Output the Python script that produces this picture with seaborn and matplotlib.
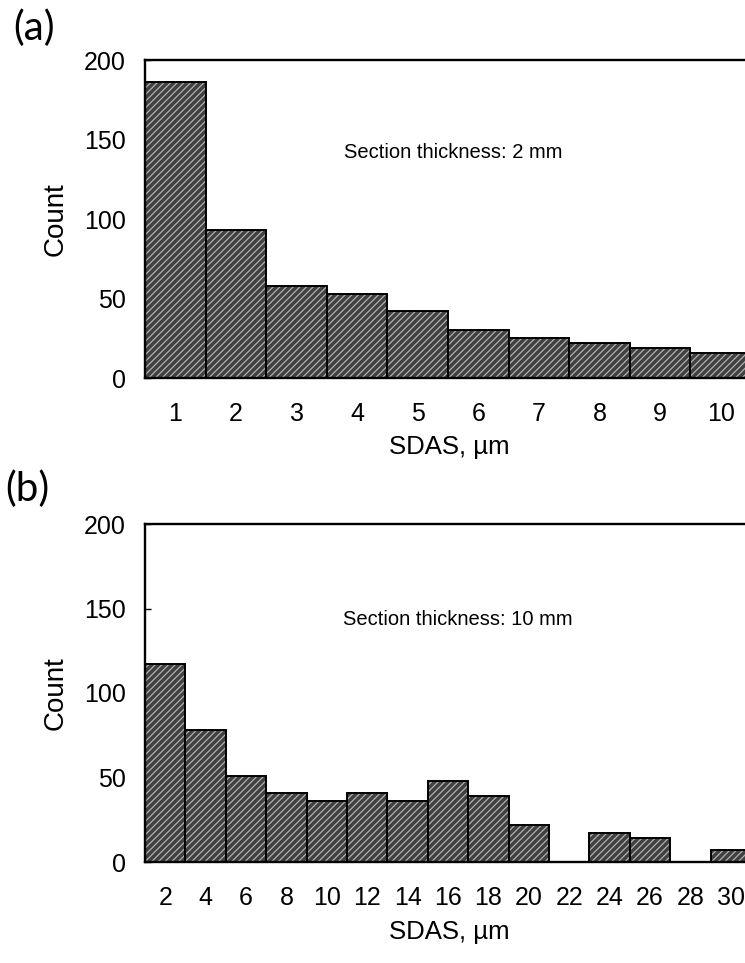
import matplotlib
matplotlib.use("Agg")
import matplotlib.pyplot as plt
import matplotlib.colors as mcolors
import seaborn as sns
import pandas as pd

# ---- data ----
labels_a = ["1", "2", "3", "4", "5", "6", "7", "8", "9", "10"]
counts_a = [186, 93, 58, 53, 42, 30, 25, 22, 19, 16]

labels_b = ["2", "4", "6", "8", "10", "12", "14", "16", "18", "20",
            "22", "24", "26", "28", "30"]
counts_b = [117, 78, 51, 41, 36, 41, 36, 48, 39, 22, 0, 17, 14, 0, 7]

yticks = [0, 50, 100, 150, 200]
note_a = "Section thickness: 2 mm"
note_b = "Section thickness: 10 mm"
xlabel = "SDAS, µm"
ylabel = "Count"

sns.set_style("ticks")
plt.rcParams["font.family"] = ["Liberation Sans", "DejaVu Sans"]
plt.rcParams["hatch.linewidth"] = 0.9
plt.rcParams["text.color"] = "black"
plt.rcParams["axes.labelcolor"] = "black"

W, H = 745, 963
fig = plt.figure(figsize=(W / 100, H / 100), dpi=100)


def px_axes(left, top, right, bottom):
    return fig.add_axes([left / W, 1 - bottom / H, (right - left) / W, (bottom - top) / H])


FACE = "#404040"
HATCH = "#b0b0b0"


def draw(ax, labels, counts, note, note_pos, xlab_y):
    df = pd.DataFrame({"bin": labels, "count": counts})
    sns.barplot(data=df, x="bin", y="count", order=labels, ax=ax, color=FACE,
                saturation=1, width=1.0, edgecolor="black", linewidth=1.4,
                errorbar=None)
    for p in ax.patches:
        p.set_hatch("/////")
        if hasattr(p, "set_hatchcolor"):
            p.set_hatchcolor(HATCH)
        else:
            p._hatch_color = mcolors.to_rgba(HATCH)
    ax.set_xlim(-0.5, len(labels) - 0.5)
    ax.set_ylim(0, 200)
    ax.set_yticks(yticks)
    ax.set_yticklabels([str(v) for v in yticks])
    for s in ["left", "top", "bottom"]:
        ax.spines[s].set_visible(True)
        ax.spines[s].set_linewidth(1.7)
        ax.spines[s].set_color("black")
    ax.spines["right"].set_visible(False)
    ax.tick_params(axis="y", direction="in", length=4, width=1, pad=14,
                   labelsize=18, colors="black")
    ax.tick_params(axis="x", length=0, pad=17, labelsize=18, colors="black")
    ax.set_xlabel(xlabel, fontsize=18.5, color="black")
    ax.set_ylabel(ylabel, fontsize=20, color="black")
    ax.yaxis.set_label_coords(-0.126, 0.5)
    ax.xaxis.set_label_coords(0.502, xlab_y)
    ax.text(note_pos[0], note_pos[1], note, transform=ax.transAxes,
            ha="center", va="center", fontsize=14.5, color="black")
    ax.set_facecolor("white")


ax_a = px_axes(145, 60, 751, 378)
draw(ax_a, labels_a, counts_a, note_a, (0.508, 0.708), -0.178)

ax_b = px_axes(145, 524, 751, 862)
draw(ax_b, labels_b, counts_b, note_b, (0.517, 0.716), -0.172)

fig.text(13 / W, 1 - 28 / H, "(a)", fontsize=29, family=["Lato", "DejaVu Sans"],
         ha="left", va="center", color="black")
fig.text(5 / W, 1 - 489 / H, "(b)", fontsize=29, family=["Lato", "DejaVu Sans"],
         ha="left", va="center", color="black")

fig.savefig("out.png", dpi=100)
